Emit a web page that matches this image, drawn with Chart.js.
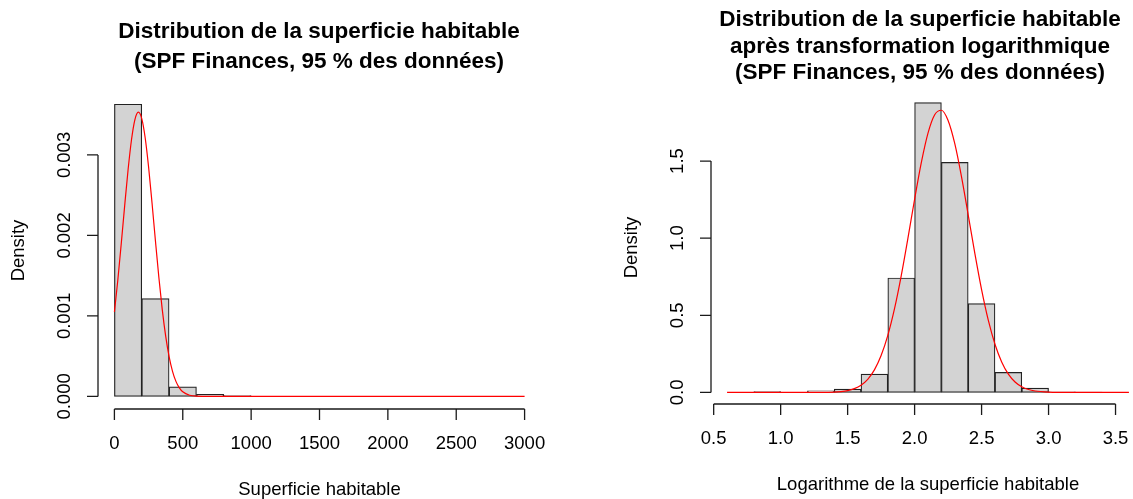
<!DOCTYPE html>
<html>
<head>
<meta charset="utf-8">
<script src="https://cdn.jsdelivr.net/npm/chart.js@4/dist/chart.umd.min.js"></script>
<style>
    html, body { margin: 0; padding: 0; background: #fff; overflow: hidden; }
    #wrap { position: relative; width: 1133px; height: 499px; overflow: hidden; }
    #leftChart { position: absolute; left: 0; top: 0; }
    #rightChart { position: absolute; left: 566px; top: 0; }
</style>
</head>
<body>
<div id="wrap">
    <canvas id="leftChart" width="566" height="499"></canvas>
    <canvas id="rightChart" width="600" height="499"></canvas>
</div>
<script>
// Histogramme de la superficie (classes de 200 m²)
const surfaceBinMids = [100, 300, 500, 700, 900];
const surfaceDensity = [0.00363, 0.001215, 0.00012, 0.000025, 0.00001];
// Courbe rouge (densité normale ajustée)
const surfaceCurveX = [0, 25, 50, 75, 100, 125, 150, 175, 200, 225, 250, 275, 300, 325, 350,
    375, 400, 425, 450, 475, 500, 550, 600, 700, 1000, 3000];
const surfaceCurveY = [0.00105, 0.001446, 0.001897, 0.002368, 0.002816, 0.003189, 0.003439, 0.003531,
    0.003452, 0.003214, 0.00285, 0.002406, 0.001934, 0.001481, 0.001079, 0.000749, 0.000495,
    0.000312, 0.000187, 0.000107, 0.000058, 0.000015, 0.000003, 0, 0, 0];
const surfaceXTicks = [0, 500, 1000, 1500, 2000, 2500, 3000];
const surfaceYTicks = [0, 0.001, 0.002, 0.003];
const surfaceYLabels = ['0.000', '0.001', '0.002', '0.003'];

// Histogramme du logarithme (classes de 0.2)
const logBinMids = [0.9, 1.1, 1.3, 1.5, 1.7, 1.9, 2.1, 2.3, 2.5, 2.7, 2.9, 3.1, 3.3];
const logDensity = [0.005, 0, 0.011, 0.021, 0.119, 0.742, 1.879, 1.491, 0.576, 0.13, 0.028, 0.004, 0.002];
const logCurveX = [0.6, 1.0, 1.2, 1.3, 1.4, 1.45, 1.5, 1.55, 1.6, 1.65, 1.7, 1.75, 1.8, 1.85, 1.9, 1.95,
    2.0, 2.05, 2.1, 2.15, 2.2, 2.25, 2.3, 2.35, 2.4, 2.45, 2.5, 2.55, 2.6, 2.65, 2.7, 2.75,
    2.8, 2.85, 2.9, 3.0, 3.1, 3.2, 3.6];
const logCurveY = [0, 0, 0.0001, 0.0004, 0.0026, 0.0058, 0.0122, 0.0246, 0.047, 0.0852, 0.1465, 0.2388,
    0.3697, 0.5427, 0.7558, 0.9988, 1.2524, 1.4897, 1.6814, 1.8005, 1.8291, 1.7629, 1.6122, 1.3987,
    1.1513, 0.8992, 0.6661, 0.4682, 0.3124, 0.1976, 0.1186, 0.0676, 0.0365, 0.0187, 0.0091, 0.0018,
    0.0003, 0, 0];
const logXTicks = [0.5, 1.0, 1.5, 2.0, 2.5, 3.0, 3.5];
const logYTicks = [0, 0.5, 1.0, 1.5];
const logYLabels = ['0.0', '0.5', '1.0', '1.5'];

const FONT = "'Liberation Sans', Arial, sans-serif";

// Axes et textes façon R (base graphics)
const rAxesPlugin = {
    id: 'rAxes',
    afterDraw(chart, args, opts) {
        const ctx = chart.ctx;
        const x = chart.scales.x;
        const y = chart.scales.y;
        const area = chart.chartArea;
        const tick = 11;
        ctx.save();
        ctx.strokeStyle = '#1a1a1a';
        ctx.fillStyle = '#000';
        ctx.lineWidth = 1.3;

        // axe x
        const xs = opts.xTicks.map(v => x.getPixelForValue(v));
        ctx.beginPath();
        ctx.moveTo(xs[0], area.bottom);
        ctx.lineTo(xs[xs.length - 1], area.bottom);
        xs.forEach(px => {
            ctx.moveTo(px, area.bottom);
            ctx.lineTo(px, area.bottom + tick);
        });
        ctx.stroke();
        ctx.font = '18.5px ' + FONT;
        ctx.textAlign = 'center';
        ctx.textBaseline = 'middle';
        opts.xTicks.forEach((v, i) => {
            ctx.fillText(opts.xLabels[i], xs[i], area.bottom + 35);
        });
        ctx.fillText(opts.xTitle, (area.left + area.right) / 2, area.bottom + 81);

        // axe y
        const ys = opts.yTicks.map(v => y.getPixelForValue(v));
        ctx.beginPath();
        ctx.moveTo(area.left, ys[0]);
        ctx.lineTo(area.left, ys[ys.length - 1]);
        ys.forEach(py => {
            ctx.moveTo(area.left, py);
            ctx.lineTo(area.left - tick, py);
        });
        ctx.stroke();
        ys.forEach((py, i) => {
            ctx.save();
            ctx.translate(area.left - 33, py);
            ctx.rotate(-Math.PI / 2);
            ctx.fillText(opts.yLabels[i], 0, 0);
            ctx.restore();
        });
        ctx.save();
        ctx.translate(area.left - 79, (area.top + area.bottom) / 2);
        ctx.rotate(-Math.PI / 2);
        ctx.fillText('Density', 0, 0);
        ctx.restore();

        // titre
        ctx.font = 'bold 22.5px ' + FONT;
        opts.title.forEach((line, i) => {
            ctx.fillText(line, opts.titleX, opts.titleY[i]);
        });
        ctx.restore();
    }
};

function makeHist(id, cfg) {
    const ctx = document.getElementById(id);
    new Chart(ctx, {
        type: 'bar',
        data: {
            datasets: [
                {
                    type: 'line',
                    data: cfg.curveX.map((v, i) => ({x: v, y: cfg.curveY[i]})),
                    borderColor: '#ff0000',
                    borderWidth: 1.2,
                    pointRadius: 0,
                    cubicInterpolationMode: 'monotone',
                    fill: false,
                    order: 0
                },
                {
                    data: cfg.binMids.map((v, i) => ({x: v, y: cfg.density[i]})),
                    backgroundColor: '#d3d3d3',
                    borderColor: '#222',
                    borderWidth: 1.2,
                    borderSkipped: false,
                    barPercentage: 1,
                    categoryPercentage: 1,
                    order: 1
                }
            ]
        },
        options: {
            responsive: false,
            animation: false,
            devicePixelRatio: 1,
            layout: {padding: cfg.padding},
            scales: {
                x: {
                    type: 'linear',
                    display: false,
                    offset: false,
                    min: cfg.xMin,
                    max: cfg.xMax,
                    afterBuildTicks: (scale) => {
                        scale.ticks = cfg.xTicks.map(v => ({value: v}));
                    }
                },
                y: {
                    type: 'linear',
                    display: false,
                    min: cfg.yMin,
                    max: cfg.yMax
                }
            },
            plugins: {
                legend: {display: false},
                tooltip: {enabled: false},
                title: {display: false},
                rAxes: {
                    xTicks: cfg.xTicks,
                    xLabels: cfg.xLabels,
                    yTicks: cfg.yTicks,
                    yLabels: cfg.yLabels,
                    xTitle: cfg.xTitle,
                    title: cfg.title,
                    titleX: cfg.titleX,
                    titleY: cfg.titleY
                }
            }
        },
        plugins: [rAxesPlugin]
    });
}

makeHist('leftChart', {
    binMids: surfaceBinMids,
    density: surfaceDensity,
    curveX: surfaceCurveX,
    curveY: surfaceCurveY,
    xTicks: surfaceXTicks,
    xLabels: surfaceXTicks.map(String),
    yTicks: surfaceYTicks,
    yLabels: surfaceYLabels,
    xMin: -120, xMax: 3120,
    yMin: -0.000156, yMax: 0.003782,
    padding: {left: 98, right: 25, top: 92, bottom: 90},
    xTitle: 'Superficie habitable',
    title: ['Distribution de la superficie habitable', '(SPF Finances, 95 % des données)'],
    titleX: 319,
    titleY: [32, 62]
});

makeHist('rightChart', {
    binMids: logBinMids,
    density: logDensity,
    curveX: logCurveX,
    curveY: logCurveY,
    xTicks: logXTicks,
    xLabels: logXTicks.map(v => v.toFixed(1)),
    yTicks: logYTicks,
    yLabels: logYLabels,
    xMin: 0.48, xMax: 3.72,
    yMin: -0.075, yMax: 1.954,
    padding: {left: 145, right: 21, top: 91, bottom: 95},
    xTitle: 'Logarithme de la superficie habitable',
    title: ['Distribution de la superficie habitable', 'après transformation logarithmique',
        '(SPF Finances, 95 % des données)'],
    titleX: 354,
    titleY: [20, 46.5, 73]
});
</script>
</body>
</html>
